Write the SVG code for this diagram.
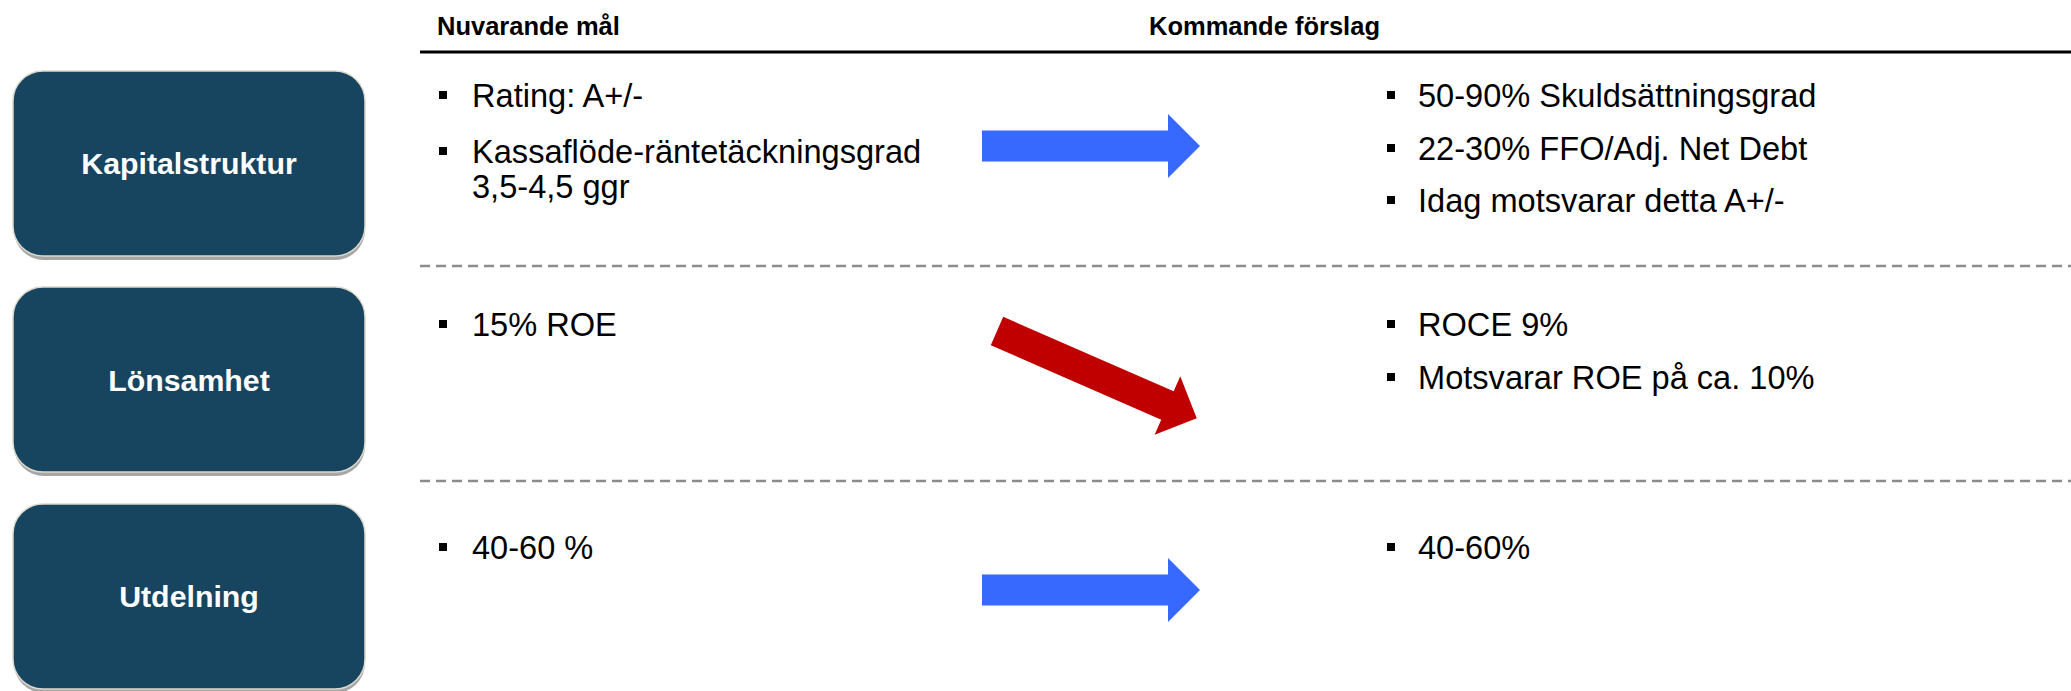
<svg xmlns="http://www.w3.org/2000/svg" width="2071" height="691" viewBox="0 0 2071 691">
  <style>
    .hdr { font-family: "Liberation Sans", Arial, sans-serif; font-weight: bold; font-size: 25.5px; fill: #000; }
    .txt { font-family: "Liberation Sans", Arial, sans-serif; font-size: 32.6px; fill: #000; }
    .lbl { font-family: "Liberation Sans", Arial, sans-serif; font-weight: bold; font-size: 30.3px; fill: #fff; text-anchor: middle; }
    .box { fill: #17445F; stroke: #DDD8CC; stroke-width: 1.5; }
    .shadow { fill: #A6A6A6; }
    .bul { fill: #000; }
    .dash { stroke: #8C8C8C; stroke-width: 2.7; stroke-dasharray: 10 6; fill: none; }
    .blue { fill: #3769FF; }
    .red { fill: #C00000; }
  </style>
  <defs>
    <polygon id="arrowShape" points="0,-15.5 186,-15.5 186,-32 218,0 186,32 186,15.5 0,15.5"/>
  </defs>
  <rect width="2071" height="691" fill="#fff"/>

  <!-- headers -->
  <g id="header">
    <text class="hdr" x="437" y="35">Nuvarande mål</text>
    <text class="hdr" x="1149" y="35">Kommande förslag</text>
    <line x1="420" y1="52" x2="2071" y2="52" stroke="#000" stroke-width="3"/>
  </g>

  <!-- separators -->
  <g id="separators">
    <line class="dash" x1="420" y1="266" x2="2071" y2="266"/>
    <line class="dash" x1="420" y1="481" x2="2071" y2="481"/>
  </g>

  <!-- nodes -->
  <g id="node-kapitalstruktur">
    <rect class="shadow" x="14" y="75" width="351" height="185" rx="30"/>
    <rect class="box" x="13" y="71" width="352" height="185" rx="30"/>
    <text class="lbl" x="189" y="174">Kapitalstruktur</text>
  </g>
  <g id="node-lonsamhet">
    <rect class="shadow" x="14" y="291" width="351" height="185" rx="30"/>
    <rect class="box" x="13" y="287" width="352" height="185" rx="30"/>
    <text class="lbl" x="189" y="391">Lönsamhet</text>
  </g>
  <g id="node-utdelning">
    <rect class="shadow" x="14" y="508" width="351" height="185" rx="30"/>
    <rect class="box" x="13" y="504" width="352" height="185" rx="30"/>
    <text class="lbl" x="189" y="607">Utdelning</text>
  </g>

  <!-- current targets -->
  <g id="current-kapitalstruktur">
    <rect class="bul" x="439" y="91" width="8" height="8"/>
    <text class="txt" x="472" y="107">Rating: A+/-</text>
    <rect class="bul" x="439" y="147" width="8" height="8"/>
    <text class="txt" x="472" y="163">Kassaflöde-räntetäckningsgrad</text>
    <text class="txt" x="472" y="198">3,5-4,5 ggr</text>
  </g>
  <g id="current-lonsamhet">
    <rect class="bul" x="439" y="320" width="8" height="8"/>
    <text class="txt" x="472" y="336">15% ROE</text>
  </g>
  <g id="current-utdelning">
    <rect class="bul" x="439" y="543" width="8" height="8"/>
    <text class="txt" x="472" y="559">40-60 %</text>
  </g>

  <!-- proposals -->
  <g id="proposal-kapitalstruktur">
    <rect class="bul" x="1387" y="91" width="8" height="8"/>
    <text class="txt" x="1418" y="107">50-90% Skuldsättningsgrad</text>
    <rect class="bul" x="1387" y="144" width="8" height="8"/>
    <text class="txt" x="1418" y="160">22-30% FFO/Adj. Net Debt</text>
    <rect class="bul" x="1387" y="196" width="8" height="8"/>
    <text class="txt" x="1418" y="212">Idag motsvarar detta A+/-</text>
  </g>
  <g id="proposal-lonsamhet">
    <rect class="bul" x="1387" y="320" width="8" height="8"/>
    <text class="txt" x="1418" y="336">ROCE 9%</text>
    <rect class="bul" x="1387" y="373" width="8" height="8"/>
    <text class="txt" x="1418" y="389">Motsvarar ROE på ca. 10%</text>
  </g>
  <g id="proposal-utdelning">
    <rect class="bul" x="1387" y="543" width="8" height="8"/>
    <text class="txt" x="1418" y="559">40-60%</text>
  </g>

  <!-- connectors -->
  <g id="connectors">
    <use href="#arrowShape" class="blue" transform="translate(982,146)"/>
    <use href="#arrowShape" class="red" transform="translate(997,331) rotate(23.6)"/>
    <use href="#arrowShape" class="blue" transform="translate(982,590)"/>
  </g>
</svg>
